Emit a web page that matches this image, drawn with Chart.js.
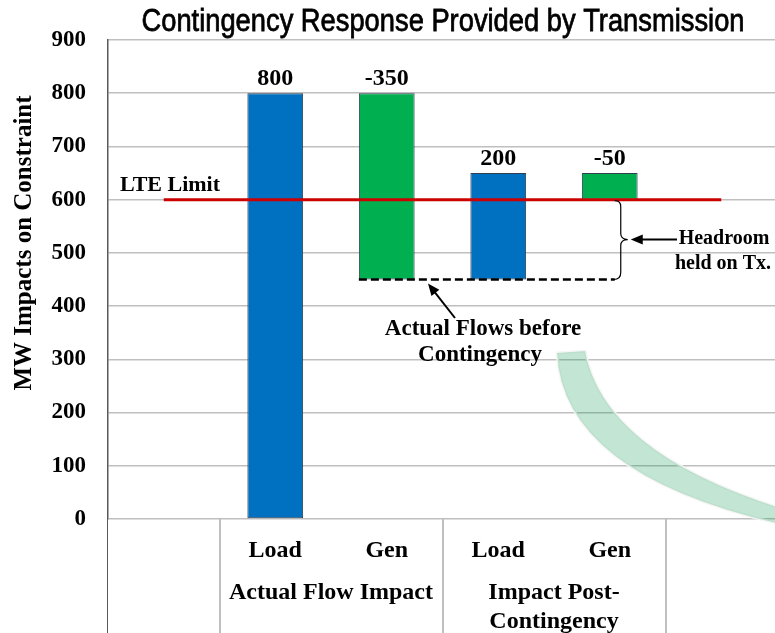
<!DOCTYPE html>
<html>
<head>
<meta charset="utf-8">
<script src="https://cdn.jsdelivr.net/npm/chart.js@4.4.1/dist/chart.umd.min.js"></script>
<style>
  html, body { margin: 0; padding: 0; background: #fff; overflow: hidden; }
  #wrap { width: 777px; height: 633px; }
</style>
</head>
<body>
<div id="wrap"><canvas id="chart" width="777" height="633"></canvas></div>
<script>
// categories along the x axis (first and last slots are empty)
const categories = ['', 'Load', 'Gen', 'Load', 'Gen', ''];
const groups = [
  { label: ['Actual Flow Impact'], from: 1, to: 2 },
  { label: ['Impact Post-', 'Contingency'], from: 3, to: 4 }
];
// floating bar ranges (waterfall)
const barStart = [null, 0, 450, 450, 600, null];
const barEnd = [null, 800, 800, 650, 650, null];
const impactLabels = [null, '800', '-350', '200', '-50', null];
const barColors = ['#0070C0', '#0070C0', '#00B050', '#0070C0', '#00B050', '#0070C0'];
const lteLimit = [600, 600, 600, 600, 600, 600];
const actualFlow = 450;
const yTicks = [0, 100, 200, 300, 400, 500, 600, 700, 800, 900];

const SERIF = '"Liberation Serif", "Times New Roman", serif';
const TITLE = 'Contingency Response Provided by Transmission';

const overlay = {
  id: 'overlay',
  afterDatasetsDraw(chart) {
    const ctx = chart.ctx;
    const x = chart.scales.x, y = chart.scales.y;
    const area = chart.chartArea;
    const bars = chart.getDatasetMeta(1).data;

    ctx.save();
    // chart title (condensed look)
    ctx.fillStyle = '#000';
    ctx.strokeStyle = '#000';
    ctx.font = '29px "Liberation Sans", Arial, sans-serif';
    ctx.textAlign = 'center';
    ctx.textBaseline = 'alphabetic';
    const tw = ctx.measureText(TITLE).width;
    ctx.save();
    ctx.translate(443, 31);
    ctx.scale(603 / tw, 1.1);
    ctx.lineWidth = 0.7;
    ctx.fillText(TITLE, 0, 0);
    ctx.strokeText(TITLE, 0, 0);
    ctx.restore();

    // y axis title
    ctx.save();
    ctx.translate(25, 243);
    ctx.rotate(-Math.PI / 2);
    ctx.font = 'bold 25px ' + SERIF;
    ctx.textBaseline = 'middle';
    ctx.fillText('MW Impacts on Constraint', 0, 0);
    ctx.restore();

    // value labels above bars
    ctx.font = 'bold 24px ' + SERIF;
    ctx.textBaseline = 'middle';
    bars.forEach((b, i) => {
      if (!impactLabels[i]) return;
      const top = Math.min(b.y, b.base);
      ctx.fillText(impactLabels[i], b.x, top - 14);
    });

    // LTE label
    ctx.font = 'bold 22px ' + SERIF;
    ctx.textAlign = 'left';
    ctx.fillText('LTE Limit', area.left + 12, y.getPixelForValue(600) - 14);

    // dashed line for actual flows before contingency
    const yA = y.getPixelForValue(actualFlow);
    const yL = y.getPixelForValue(600);
    const xStart = bars[2].x - bars[2].width / 2;
    const bx = x.getPixelForValue(4) + 11;
    ctx.strokeStyle = '#000';
    ctx.lineWidth = 2.5;
    ctx.setLineDash([8, 4]);
    ctx.beginPath();
    ctx.moveTo(xStart, yA);
    ctx.lineTo(bx - 6, yA);
    ctx.stroke();
    ctx.setLineDash([]);

    // brace
    const ym = (yA + yL) / 2;
    ctx.lineWidth = 1.2;
    ctx.beginPath();
    ctx.moveTo(bx - 6, yL + 1);
    ctx.quadraticCurveTo(bx, yL + 1, bx, yL + 7);
    ctx.lineTo(bx, ym - 6);
    ctx.quadraticCurveTo(bx, ym, bx + 7, ym);
    ctx.quadraticCurveTo(bx, ym, bx, ym + 6);
    ctx.lineTo(bx, yA - 7);
    ctx.quadraticCurveTo(bx, yA, bx - 7, yA);
    ctx.stroke();

    // arrows
    const arrow = (x1, y1, x2, y2) => {
      const ang = Math.atan2(y2 - y1, x2 - x1);
      const hl = 12, hw = 5;
      ctx.lineWidth = 2;
      ctx.beginPath();
      ctx.moveTo(x1, y1);
      ctx.lineTo(x2 - Math.cos(ang) * hl * 0.8, y2 - Math.sin(ang) * hl * 0.8);
      ctx.stroke();
      ctx.beginPath();
      ctx.moveTo(x2, y2);
      ctx.lineTo(x2 - Math.cos(ang) * hl - Math.sin(ang) * hw, y2 - Math.sin(ang) * hl + Math.cos(ang) * hw);
      ctx.lineTo(x2 - Math.cos(ang) * hl + Math.sin(ang) * hw, y2 - Math.sin(ang) * hl - Math.cos(ang) * hw);
      ctx.closePath();
      ctx.fill();
    };
    arrow(677, ym, bx + 10, ym);
    arrow(455, 318, 428, yA + 4);

    // annotation text
    ctx.font = 'bold 20px ' + SERIF;
    ctx.textAlign = 'center';
    ctx.fillText('Headroom', 724, ym - 1);
    ctx.fillText('held on Tx.', 723, ym + 24);
    ctx.font = 'bold 23px ' + SERIF;
    ctx.fillText('Actual Flows before', 483, 329);
    ctx.fillText('Contingency', 480, 355);

    // decorative curved band
    ctx.beginPath();
    ctx.moveTo(557, 353);
    ctx.quadraticCurveTo(563, 474, 780, 524);
    ctx.lineTo(780, 508);
    ctx.quadraticCurveTo(604, 452, 585, 351);
    ctx.closePath();
    ctx.fillStyle = 'rgba(0, 150, 70, 0.24)';
    ctx.strokeStyle = 'rgba(245, 245, 245, 0.9)';
    ctx.lineWidth = 3;
    ctx.stroke();
    ctx.fill();

    // bottom group boxes and labels
    ctx.strokeStyle = '#BFBFBF';
    ctx.lineWidth = 2;
    [0.5, 2.5, 4.5].forEach(v => {
      const px = Math.round(x.getPixelForValue(v));
      ctx.beginPath();
      ctx.moveTo(px, area.bottom);
      ctx.lineTo(px, chart.height);
      ctx.stroke();
    });
    ctx.strokeStyle = '#595959';
    ctx.lineWidth = 1;
    ctx.beginPath();
    ctx.moveTo(area.left - 0.5, area.bottom);
    ctx.lineTo(area.left - 0.5, chart.height);
    ctx.stroke();

    ctx.fillStyle = '#000';
    ctx.font = 'bold 24px ' + SERIF;
    groups.forEach(g => {
      const cx = (x.getPixelForValue(g.from) + x.getPixelForValue(g.to)) / 2;
      g.label.forEach((t, k) => ctx.fillText(t, cx, area.bottom + 74 + k * 29));
    });
    ctx.restore();
  }
};

new Chart(document.getElementById('chart').getContext('2d'), {
  data: {
    labels: categories,
    datasets: [
      {
        type: 'line',
        label: 'LTE Limit',
        data: lteLimit,
        borderColor: '#CC0000',
        borderWidth: 3,
        pointRadius: 0,
        order: 0
      },
      {
        type: 'bar',
        label: 'Impact',
        data: barStart.map((s, i) => s === null ? null : [s, barEnd[i]]),
        backgroundColor: barColors,
        borderColor: '#2F3F4F',
        borderWidth: 1,
        borderSkipped: false,
        categoryPercentage: 1,
        barPercentage: 0.5,
        order: 1
      }
    ]
  },
  plugins: [overlay],
  options: {
    responsive: false,
    animation: false,
    layout: { padding: { left: 0, right: 0, top: 40, bottom: 0 } },
    scales: {
      x: {
        grid: { display: false },
        border: { display: false },
        ticks: {
          color: '#000',
          font: { family: SERIF, size: 24, weight: 'bold' },
          padding: 9,
          maxRotation: 0
        },
        afterFit(s) { s.height = 114; }
      },
      y: {
        min: 0,
        max: 900,
        afterBuildTicks(s) { s.ticks = yTicks.map(v => ({ value: v })); },
        grid: { color: '#BFBFBF', lineWidth: 1.5, drawTicks: false },
        border: { color: '#595959', width: 1.5 },
        ticks: {
          color: '#000',
          font: { family: SERIF, size: 23, weight: 'bold' },
          padding: 22
        },
        afterFit(s) { s.width = 108; }
      }
    },
    plugins: {
      legend: { display: false },
      tooltip: { enabled: false },
      title: { display: false }
    }
  }
});
</script>
</body>
</html>
